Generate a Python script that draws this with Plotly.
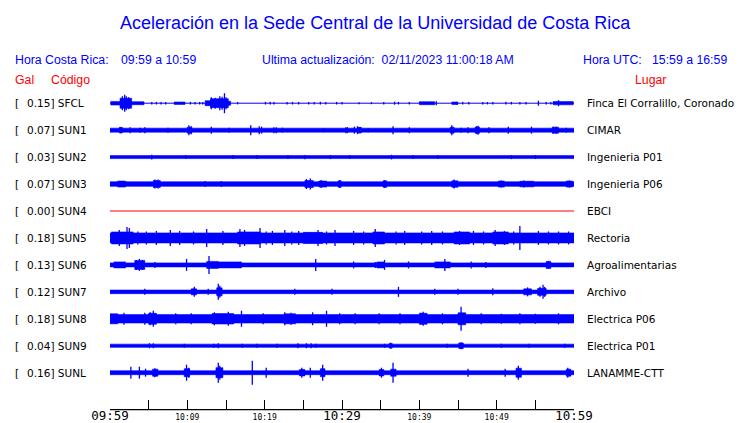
import plotly.graph_objects as go

# ---------------- data ----------------
title = "Aceleración en la Sede Central de la Universidad de Costa Rica"
hora_cr = "09:59 a 10:59"
hora_utc = "15:59 a 16:59"
ultima = "02/11/2023 11:00:18 AM"

stations = ["SFCL", "SUN1", "SUN2", "SUN3", "SUN4", "SUN5", "SUN6", "SUN7", "SUN8", "SUN9", "SUNL"]
peak_gal = [0.15, 0.07, 0.03, 0.07, 0.00, 0.18, 0.13, 0.12, 0.18, 0.04, 0.16]
places = ["Finca El Corralillo, Coronado", "CIMAR", "Ingenieria P01", "Ingenieria P06", "EBCI",
          "Rectoria", "Agroalimentarias", "Archivo", "Electrica P06", "Electrica P01", "LANAMME-CTT"]

# continuous background amplitude (display units) of each trace
base_amp = [0.5, 2.0, 1.5, 2.3, 0.0, 5.0, 2.0, 1.8, 4.2, 1.6, 2.0]

# bursts: (start minute, end minute, half amplitude)
bursts = {
    "SFCL": [(0.1, 1.3, 1.8), (1.3, 2.8, 5), (2.8, 4.4, 1.5), (8.3, 9.7, 1.2), (12.3, 13.0, 2.5),
             (13.0, 15.3, 4.5), (15.3, 15.6, 2), (40.0, 42.0, 1.5), (44.2, 45.0, 1.2), (57.3, 59.9, 1.6)],
    "SUN1": [(1.2, 1.6, 2.8), (10.0, 10.6, 3), (32.0, 32.5, 2.8), (44.0, 44.5, 3), (47.2, 47.8, 3), (57.2, 58.0, 3)],
    "SUN2": [],
    "SUN3": [(1.0, 2.0, 3), (5.6, 6.5, 3.5), (25.2, 26.3, 3.5), (27.0, 28.0, 3), (29.5, 29.9, 3.2), (35.3, 35.8, 3.2),
             (44.2, 45.0, 3.2), (50.2, 51.0, 3), (53.0, 54.8, 2.8), (59.0, 59.8, 3)],
    "SUN4": [],
    "SUN5": [(0.2, 3.0, 6.0), (16.5, 19.5, 6.0), (25.0, 27.5, 5.6), (34.0, 35.5, 6.0), (44.5, 46.5, 6.0), (49.5, 51.5, 6.0)],
    "SUN6": [(0.5, 2.0, 3), (3.2, 4.5, 4.5), (12.5, 14.0, 3.5), (14.0, 17.0, 3), (34.5, 35.5, 3), (42.0, 44.0, 3), (56.4, 57.0, 3.5)],
    "SUN7": [(10.5, 11.2, 3), (13.8, 14.5, 4), (53.5, 54.5, 3), (55.3, 56.4, 3.5)],
    "SUN8": [(0.0, 1.0, 5), (5.0, 6.0, 5.5), (13.2, 16.0, 5.2), (22.5, 24.0, 5), (40.0, 41.0, 5.5), (45.0, 46.0, 6)],
    "SUN9": [(36.1, 36.5, 2.3), (45.1, 45.7, 2.8)],
    "SUNL": [(5.5, 6.2, 3.5), (9.6, 10.3, 4), (13.7, 14.6, 5), (24.5, 25.2, 3.2), (27.2, 27.8, 4), (34.8, 35.4, 3.2),
             (36.3, 37.0, 3.5), (52.5, 53.2, 4.5), (59.0, 59.6, 3.5)],
}

# spikes: (minute, half amplitude)
spikes = {
    "SFCL": [(1.6, 7), (1.9, 8.5), (2.1, 7), (2.4, 6), (13.1, 6), (13.6, 5.5), (14.2, 7), (14.5, 6.5), (14.8, 10),
             (15.0, 6), (5.4, 1.3), (6.0, 1.3), (6.6, 1.3), (7.2, 1.3), (10.4, 1.3), (11.0, 1.3), (11.6, 1.3),
             (12.0, 1.3), (16.5, 1.2), (20.1, 1.3), (20.7, 1.4), (21.2, 1.3), (22.9, 1.2), (23.6, 1.3), (24.4, 1.2),
             (25.7, 1.2), (26.4, 1.2), (27.2, 1.4), (27.9, 1.3), (29.3, 1.3), (30.0, 1.2), (32.2, 1.0), (33.8, 1.0),
             (35.4, 1.3), (36.8, 1.5), (37.3, 1.3), (38.7, 1.2), (42.2, 2), (44.8, 1.4), (45.6, 1.3), (46.4, 1.3),
             (48.2, 1.2), (48.8, 1.2), (49.5, 1.2), (51.2, 1.4), (51.9, 1.3), (53.0, 1.3), (53.8, 1.2), (55.4, 2.5),
             (56.4, 1.3), (57.0, 1.3), (58.0, 3)],
    "SUN1": [(1.4, 3), (2.6, 3), (3.9, 2.5), (4.5, 3), (7.5, 2.5), (10.2, 5), (10.5, 4), (13.1, 3.5), (15.4, 2.5),
             (18.2, 5), (19.3, 4), (19.6, 3.5), (21.2, 3), (21.5, 3), (22.3, 2.5), (27.6, 2), (30.5, 3), (30.7, 3),
             (31.6, 3.5), (32.0, 4), (32.3, 3), (33.4, 2), (36.6, 4), (38.7, 3), (44.2, 5), (45.4, 2.5), (46.3, 3),
             (47.4, 4), (47.6, 4.5), (49.0, 3), (51.5, 3.5), (54.5, 3.5), (57.3, 3.5), (57.7, 3.5), (59.0, 2.5)],
    "SUN2": [(5.4, 2.3), (9.8, 2), (15.9, 2), (19.0, 2), (23.0, 2), (25.2, 2.2), (28.5, 2), (31.0, 2), (36.4, 2.3),
             (39.2, 2), (42.4, 2), (51.9, 2), (55.0, 2)],
    "SUN3": [(5.8, 4.5), (6.2, 4.5), (12.3, 3), (14.4, 3), (25.4, 5), (25.9, 5.5), (27.3, 4), (29.7, 4), (35.5, 4),
             (44.5, 4.5), (50.6, 3.5), (53.5, 3.5), (59.4, 3.5)],
    "SUN4": [],
    "SUN5": [(1.2, 8), (2.2, 11), (2.5, 10), (4.7, 6.5), (6.0, 7), (7.8, 8), (9.0, 7), (12.5, 9), (14.6, 7), (16.8, 9),
             (17.4, 8), (19.4, 10), (21.0, 7), (22.6, 8), (24.4, 7), (26.9, 8), (29.1, 8), (31.5, 7), (34.3, 9),
             (38.1, 7), (41.6, 7), (45.2, 7), (47.0, 7), (49.8, 8), (51.0, 7), (53.0, 12), (55.4, 7), (58.0, 6.5),
             (3.6, 6.5), (10.8, 6.5), (20.2, 6.5), (23.5, 6.5), (28.0, 6.5), (32.8, 6.5), (37.0, 6.5), (40.3, 6.5),
             (43.0, 6.5), (48.3, 6.5), (52.2, 6.5), (56.7, 6.5), (59.3, 6.5)],
    "SUN6": [(3.4, 5), (3.8, 6), (4.2, 5), (5.8, 3), (9.9, 6), (12.8, 9), (26.6, 6), (31.5, 3.5), (34.3, 3), (35.5, 5),
             (38.6, 3.5), (43.3, 6), (46.7, 3.5), (48.6, 3), (56.7, 4)],
    "SUN7": [(4.5, 3), (10.9, 5), (12.7, 3), (14.0, 8), (14.2, 6), (23.9, 3), (28.7, 3), (37.3, 5), (42.0, 3), (45.0, 3),
             (49.5, 3.5), (54.0, 4.5), (55.6, 5), (56.0, 7), (56.2, 5)],
    "SUN8": [(1.8, 6), (4.5, 6), (5.2, 6.5), (5.6, 8), (8.5, 5.5), (13.5, 6.5), (15.3, 7), (17.0, 8), (22.6, 6.5),
             (23.4, 6), (26.2, 6.5), (28.0, 8), (29.7, 5.5), (31.7, 5.5), (40.2, 6), (40.5, 7), (45.4, 12), (50.6, 5),
             (55.0, 5), (10.5, 5.5), (19.8, 5.5), (34.8, 5.5), (37.5, 5.5), (43.0, 5.5), (48.0, 5.5), (53.0, 5.5),
             (58.0, 5.5)],
    "SUN9": [(5.1, 2.5), (5.6, 2.5), (9.6, 2), (13.4, 2), (14.0, 2.5), (17.1, 2), (19.0, 2), (21.6, 2), (24.3, 2.5),
             (25.4, 2.5), (26.0, 2.5), (26.6, 2), (35.5, 2), (36.3, 3), (43.6, 2), (45.4, 3.5), (50.6, 2), (54.2, 2),
             (58.8, 2)],
    "SUNL": [(2.7, 6), (3.8, 6), (4.6, 4), (5.8, 4.5), (9.9, 8), (10.2, 5), (14.0, 10), (14.2, 7), (18.4, 12), (20.2, 5),
             (24.8, 5), (25.9, 5), (27.5, 8), (35.1, 5), (36.6, 10), (46.3, 4), (51.1, 4), (52.8, 7), (59.2, 5)],
}

tick_minutes = [0, 5, 10, 15, 20, 25, 30, 35, 40, 45, 50, 55, 60]
tick_labels = ["09:59", "", "10:09", "", "10:19", "", "10:29", "", "10:39", "", "10:49", "", "10:59"]
major_ticks = ["09:59", "10:29", "10:59"]

# ---------------- layout geometry ----------------
W, H = 740, 423
L, R = 110, 574.3
TOP, BOT = 88, 409
ROW0, ROW_STEP = 103.2, 26.95
BLUE = "#0000ff"
RED = "#ff0000"


def xp(px):
    return (px - L) / (R - L)


def yp(py):
    return (BOT - py) / (BOT - TOP)


fig = go.Figure()

for i, st in enumerate(stations):
    yc = -(ROW0 + ROW_STEP * i)
    if peak_gal[i] == 0:
        fig.add_trace(go.Scatter(x=[0, 60], y=[yc, yc], mode="lines",
                                 line=dict(color=RED, width=1), hoverinfo="skip", showlegend=False))
        continue
    rects = []
    if base_amp[i] >= 1:
        rects.append((0, 60, base_amp[i]))
    rects += bursts[st]
    xs, ys = [], []
    for t0, t1, a in rects:
        xs += [t0, t1, t1, t0, t0, None]
        ys += [yc + a, yc + a, yc - a, yc - a, yc + a, None]
    if xs:
        fig.add_trace(go.Scatter(x=xs, y=ys, mode="lines", fill="toself", fillcolor=BLUE,
                                 line=dict(color=BLUE, width=0.6), hoverinfo="skip", showlegend=False))
    if base_amp[i] < 1:
        fig.add_trace(go.Scatter(x=[0, 60], y=[yc, yc], mode="lines",
                                 line=dict(color=BLUE, width=1), hoverinfo="skip", showlegend=False))
    sx, sy = [], []
    for t, a in spikes[st]:
        sx += [t, t, None]
        sy += [yc + a, yc - a, None]
    if sx:
        fig.add_trace(go.Scatter(x=sx, y=sy, mode="lines", line=dict(color=BLUE, width=1.3),
                                 hoverinfo="skip", showlegend=False))

ticktext = [f'<span style="font-size:12.5px">{t}</span>' if t in major_ticks else t for t in tick_labels]

annotations = []


def ann(text, px, py, color, size, family="Liberation Sans", anchor="left"):
    annotations.append(dict(text=text, x=xp(px), y=yp(py), xref="paper", yref="paper",
                            xanchor=anchor, yanchor="middle", showarrow=False,
                            font=dict(color=color, size=size, family=family)))


ann(title, 376, 23, BLUE, 18, anchor="center")
ann("Hora Costa Rica:", 13, 60, BLUE, 12.3)
ann(hora_cr, 119, 60, BLUE, 12.3)
ann("Ultima actualización:  " + ultima, 260, 60, BLUE, 12.3)
ann("Hora UTC:", 581, 60, BLUE, 12.3)
ann(hora_utc, 650, 60, BLUE, 12.3)
ann("Gal", 13, 80, RED, 12.3)
ann("Código", 49, 80, RED, 12.3)
ann("Lugar", 633, 80, RED, 12.3)

for i, st in enumerate(stations):
    py = ROW0 + ROW_STEP * i
    ann("[", 12.5, py, "black", 10.5, family="DejaVu Sans")
    ann(f"{peak_gal[i]:.2f}] {st}", 25, py, "black", 10.5, family="DejaVu Sans")
    ann(places[i], 585, py, "black", 10.5, family="DejaVu Sans")

axis_y = -0.6 / (BOT - TOP)

fig.update_layout(
    width=W, height=H,
    margin=dict(l=L, r=W - R, t=TOP, b=H - BOT, pad=0, autoexpand=False),
    paper_bgcolor="white", plot_bgcolor="white",
    showlegend=False,
    annotations=annotations,
    shapes=[dict(type="line", xref="paper", yref="paper", x0=0, x1=1, y0=axis_y, y1=axis_y,
                 line=dict(color="black", width=1.3), layer="above")],
    xaxis=dict(range=[0, 60], showgrid=False, zeroline=False, showline=True, linecolor="black",
               linewidth=1, ticks="inside", ticklen=9, tickcolor="black", tickwidth=1,
               tickmode="array", tickvals=tick_minutes, ticktext=ticktext, automargin=False,
               tickfont=dict(family="DejaVu Sans Mono", size=8, color="black"), fixedrange=True),
    yaxis=dict(range=[-BOT, -TOP], visible=False, showgrid=False, zeroline=False, fixedrange=True,
               automargin=False),
)

fig.write_html("out.html", config={"displayModeBar": False},
               post_script="document.body.style.margin='0';")
